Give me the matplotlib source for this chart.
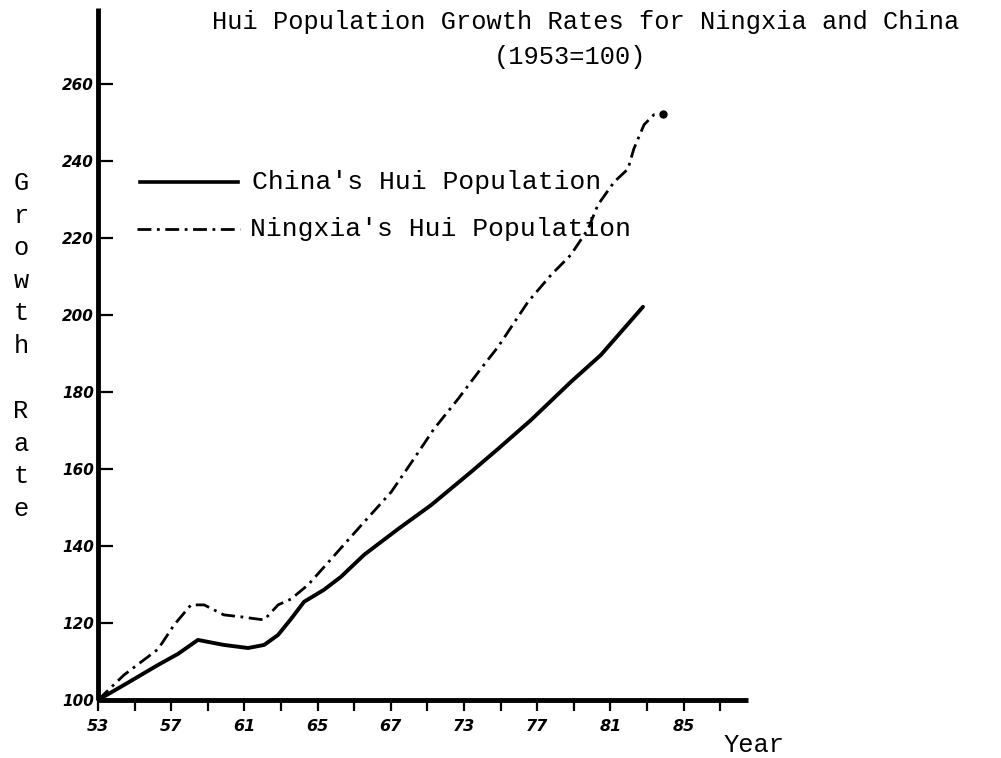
import matplotlib as mpl
import matplotlib.pyplot as plt
from matplotlib.lines import Line2D

mpl.rcParams['font.family'] = ['Liberation Mono', 'DejaVu Sans Mono']

# x is the position along the hand-drawn year axis (one unit per minor tick)
year_pos = [0, 2, 4, 6, 8, 10, 12, 14, 16]
year_labels = ['53', '57', '61', '65', '67', '73', '77', '81', '85']
minor_pos = [1, 3, 5, 7, 9, 11, 13, 15, 17]

y_ticks = [100, 120, 140, 160, 180, 200, 220, 240, 260]

china_x = [0, 0.71, 1.64, 2.19, 2.73, 3.44, 4.10, 4.54, 4.92, 5.27, 5.63,
           6.17, 6.64, 7.27, 8.20, 9.10, 10.19, 10.93, 11.83, 12.92, 13.74, 14.89]
china_y = [100, 103.9, 109.1, 112.0, 115.6, 114.3, 113.5, 114.3, 116.9, 121.0, 125.5,
           128.6, 132.0, 137.7, 144.4, 150.6, 159.2, 165.2, 172.7, 182.6, 189.6, 202.1]

ningxia_x = [0, 0.71, 1.64, 2.08, 2.54, 2.90, 3.44, 3.91, 4.37, 4.54, 4.92, 5.27,
             5.74, 6.37, 7.27, 8.01, 8.63, 9.18, 9.84, 10.46, 10.93, 11.75, 12.38,
             12.92, 13.39, 13.66, 14.10, 14.48, 14.64, 14.92, 15.19, 15.44]
ningxia_y = [100, 106.5, 113.2, 119.5, 124.7, 124.7, 122.1, 121.6, 121.0, 120.8, 124.7, 126.2,
             129.9, 136.6, 146.2, 154.0, 162.6, 170.4, 178.2, 186.0, 191.7, 203.4, 210.4,
             215.6, 222.3, 228.6, 234.5, 237.9, 243.1, 249.4, 252.0, 252.2]

W, H = 1001, 758
fig = plt.figure(figsize=(W / 100, H / 100), dpi=100)
ax = fig.add_axes([98 / W, 58 / H, 650 / W, 692 / H])

ax.plot(china_x, china_y, color='black', lw=2.8, solid_joinstyle='round',
        solid_capstyle='round')
ax.plot(ningxia_x, ningxia_y, color='black', lw=2.0, dashes=(5, 2, 1, 2),
        dash_joinstyle='round')
# ink blob where the Ningxia curve stops
ax.plot(ningxia_x[-1:], ningxia_y[-1:], 'o', color='black', ms=5)

ax.set_xlim(0, 17.76)
ax.set_ylim(100, 279.7)

for side in ['top', 'right']:
    ax.spines[side].set_visible(False)
for side in ['left', 'bottom']:
    ax.spines[side].set_linewidth(3.5)
    ax.spines[side].set_capstyle('butt')

ax.set_yticks(y_ticks)
ax.set_yticklabels([str(v) for v in y_ticks])
ax.tick_params(axis='y', direction='in', length=11, width=1.6, pad=3,
               labelsize=11)
ax.set_xticks(year_pos)
ax.set_xticklabels(year_labels)
ax.set_xticks(minor_pos, minor=True)
ax.tick_params(axis='x', which='both', direction='out', length=8, width=1.6,
               pad=6, labelsize=11.5)
for lbl in ax.get_xticklabels() + ax.get_yticklabels():
    lbl.set_family('DejaVu Sans')
    lbl.set_style('italic')
    lbl.set_weight('bold')

# titles and labels
fs = 18.3
fig.text(212 / W, 1 - 22 / H, 'Hui Population Growth Rates for Ningxia and China',
         fontsize=fs, ha='left', va='center')
fig.text(570 / W, 1 - 57 / H, '(1953=100)', fontsize=fs, ha='center', va='center')
fig.text(21 / W, 1 - 346 / H, 'G\nr\no\nw\nt\nh\n\nR\na\nt\ne', fontsize=fs,
         ha='center', va='center', linespacing=1.45)
fig.text(723 / W, 1 - 745 / H, 'Year', fontsize=fs, ha='left', va='center')

# hand-drawn key
fs_key = 19.0
fig.add_artist(Line2D([140 / W, 238 / W], [1 - 182 / H, 1 - 182 / H],
                      color='black', lw=2.6))
fig.add_artist(Line2D([137 / W, 240 / W], [1 - 229 / H, 1 - 229 / H],
                      color='black', lw=2.0, dashes=(5, 2, 1, 2)))
fig.text(252 / W, 1 - 182 / H, "China's Hui Population", fontsize=fs_key,
         ha='left', va='center')
fig.text(250 / W, 1 - 229 / H, "Ningxia's Hui Population", fontsize=fs_key,
         ha='left', va='center')

fig.savefig('out.png', dpi=100)
